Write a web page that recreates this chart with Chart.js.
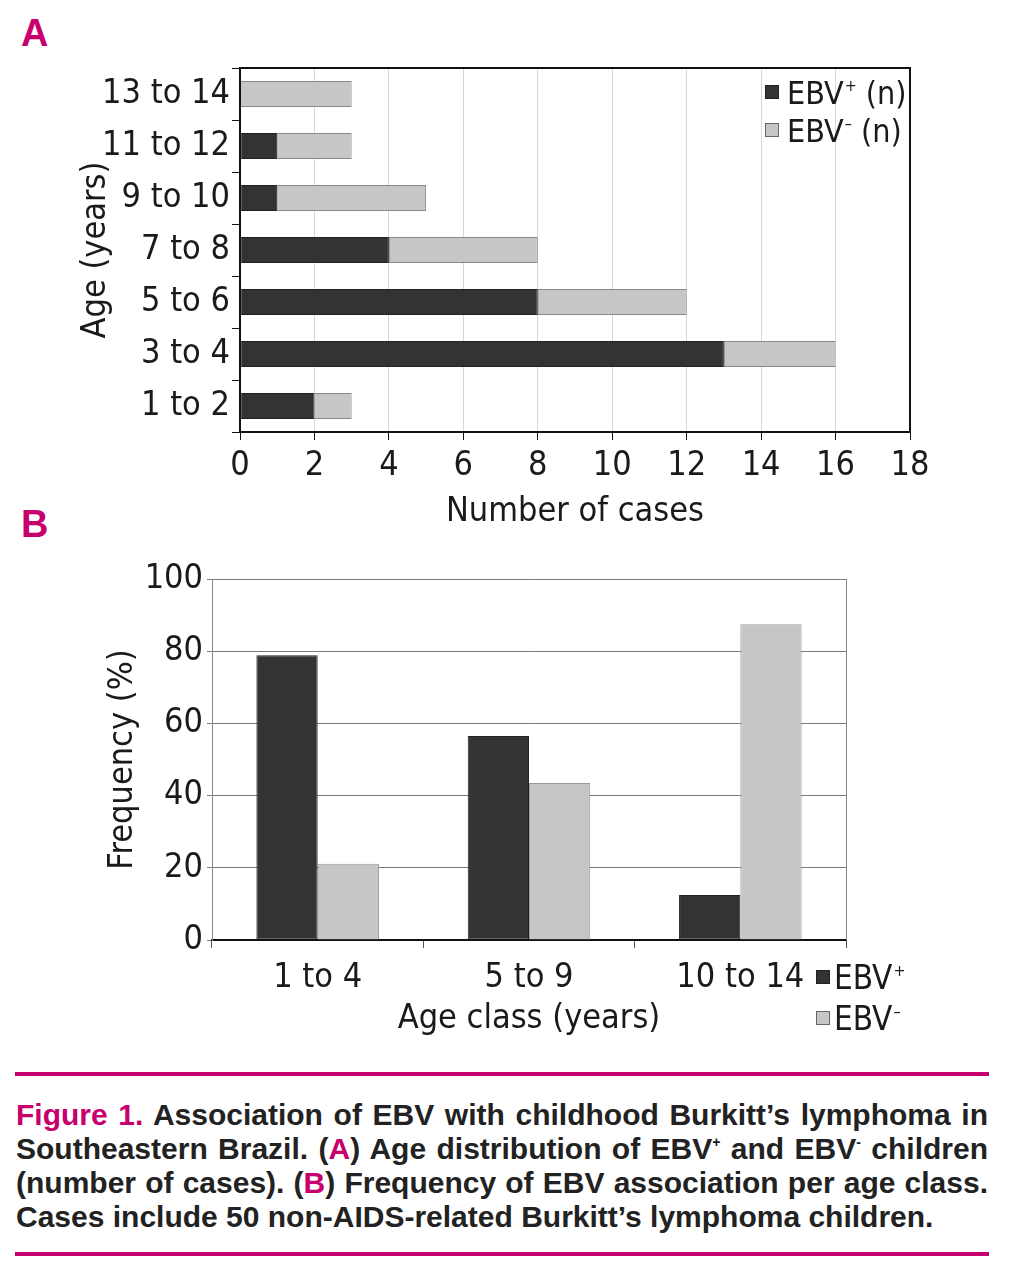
<!DOCTYPE html>
<html>
<head>
<meta charset="utf-8">
<script src="https://cdn.jsdelivr.net/npm/chart.js@4"></script>
<style>
  html, body { margin: 0; padding: 0; background: #fff; }
  body { width: 1011px; height: 1280px; position: relative; overflow: hidden;
         font-family: "DejaVu Sans Condensed", "DejaVu Sans", sans-serif; color: #1a1a1a; }
  .panel { position: absolute; left: 0; width: 1011px; }
  .letter { position: absolute; left: 21px; font-weight: bold; font-size: 38px; color: #c8006e;
            font-family: "Liberation Sans", sans-serif; }
  .leg { position: absolute; font-size: 33px; line-height: 38px; white-space: nowrap; color: #1a1a1a; }
  .leg .sw { display: inline-block; width: 12px; height: 12px; border: 1px solid #666; margin-right: 8px; vertical-align: middle; position: relative; top: -3px; }
  .leg .sp { font-size: 16px; line-height: 0; position: relative; top: -13px; margin-left: 1px; }
  .rule { position: absolute; left: 15px; width: 974px; height: 4px; background: #c8006e; }
  .cap { position: absolute; left: 16px; width: 972px; font-size: 30px; line-height: 34px; font-weight: bold;
         font-family: "Liberation Sans", sans-serif; color: #222; }
  .cap div { height: 34px; text-align: justify; text-align-last: justify; white-space: nowrap; }
  .cap div.last { text-align-last: left; }
  .cap .m { color: #c8006e; }
  .cap .sp { font-size: 14px; line-height: 0; position: relative; top: -12px; }
</style>
</head>
<body>
<div class="letter" style="top:12px;">A</div>
<div class="letter" style="top:503px;">B</div>

<canvas id="chartA" class="panel" width="1011" height="540" style="top:0;"></canvas>
<canvas id="chartB" class="panel" width="1011" height="520" style="top:540px;"></canvas>

<div class="leg" style="left:765px; top:74px; font-size:32px;"><span class="sw" style="background:#333;border-color:#222"></span>EBV<span class="sp">+</span> (n)</div>
<div class="leg" style="left:765px; top:112px; font-size:32px;"><span class="sw" style="background:#c6c6c6"></span>EBV<span class="sp">–</span> (n)</div>

<div class="leg" style="left:816px; top:959px;"><span class="sw" style="background:#333;border-color:#222;margin-right:4px"></span>EBV<span class="sp">+</span></div>
<div class="leg" style="left:816px; top:1000px;"><span class="sw" style="background:#c6c6c6;margin-right:4px"></span>EBV<span class="sp">–</span></div>

<div class="rule" style="top:1072px;"></div>
<div class="cap" style="top:1098px;">
  <div><span class="m">Figure 1.</span> Association of EBV with childhood Burkitt’s lymphoma in</div>
  <div>Southeastern Brazil. (<span class="m">A</span>) Age distribution of EBV<span class="sp">+</span> and EBV<span class="sp">-</span> children</div>
  <div>(number of cases). (<span class="m">B</span>) Frequency of EBV association per age class.</div>
  <div class="last">Cases include 50 non-AIDS-related Burkitt’s lymphoma children.</div>
</div>
<div class="rule" style="top:1252px;"></div>

<script>
// ---- Panel A data ----
const ageGroups = ['13 to 14', '11 to 12', '9 to 10', '7 to 8', '5 to 6', '3 to 4', '1 to 2'];
const ebvPosCounts = [0, 1, 1, 4, 8, 13, 2];
const ebvNegCounts = [3, 2, 4, 4, 4, 3, 1];
const countTicksMax = 18;

// ---- Panel B data ----
const ageClasses = ['1 to 4', '5 to 9', '10 to 14'];
const ebvPosPct = [78.9, 56.5, 12.5];
const ebvNegPct = [21.1, 43.5, 87.5];

const FONT = "'DejaVu Sans Condensed', 'DejaVu Sans', sans-serif";
const DARK = '#333333';
const LIGHT = '#c6c6c6';

const frameA = {
  id: 'frameA',
  afterDatasetsDraw(chart) {
    const {ctx, chartArea: a} = chart;
    ctx.save();
    ctx.strokeStyle = '#111';
    ctx.lineWidth = 2;
    ctx.strokeRect(a.left, a.top, a.right - a.left, a.bottom - a.top);
    ctx.restore();
  }
};

const frameB = {
  id: 'frameB',
  beforeDatasetsDraw(chart) {
    const {ctx, chartArea: a} = chart;
    ctx.save();
    ctx.strokeStyle = '#888';
    ctx.lineWidth = 1;
    ctx.beginPath();
    ctx.moveTo(a.right + 0.5, a.top);
    ctx.lineTo(a.right + 0.5, a.bottom);
    ctx.stroke();
    ctx.restore();
  }
};

new Chart(document.getElementById('chartA'), {
  type: 'bar',
  data: {
    labels: ageGroups,
    datasets: [
      { label: 'EBV+ (n)', data: ebvPosCounts, backgroundColor: DARK, borderColor: '#222', borderWidth: 1, borderSkipped: false },
      { label: 'EBV- (n)', data: ebvNegCounts, backgroundColor: LIGHT, borderColor: '#888', borderWidth: 1, borderSkipped: false }
    ]
  },
  options: {
    responsive: false,
    animation: false,
    indexAxis: 'y',
    layout: { padding: { left: 0, right: 101, top: 68, bottom: 0 } },
    plugins: { legend: { display: false }, tooltip: { enabled: false } },
    datasets: { bar: { categoryPercentage: 0.5, barPercentage: 1.0 } },
    scales: {
      x: {
        stacked: true, min: 0, max: countTicksMax,
        ticks: { stepSize: 2, color: '#1a1a1a', font: { family: FONT, size: 34 }, padding: 6 },
        grid: { color: '#d8d8d8', tickColor: '#111', tickLength: 8, lineWidth: 1 },
        border: { color: '#111', width: 2 },
        title: { display: true, text: 'Number of cases', color: '#1a1a1a', font: { family: FONT, size: 34 }, padding: { top: 0, bottom: 7 } },
        afterFit(s) { s.height = 108; }
      },
      y: {
        stacked: true,
        ticks: { color: '#1a1a1a', font: { family: FONT, size: 34 }, padding: 2 },
        grid: { offset: true, drawOnChartArea: false, tickColor: '#111', tickLength: 8 },
        border: { color: '#111', width: 2 },
        title: { display: true, text: 'Age (years)', color: '#1a1a1a', font: { family: FONT, size: 34 }, padding: { top: 76, bottom: 0 } },
        afterFit(s) { s.width = 240; }
      }
    }
  },
  plugins: [frameA]
});

new Chart(document.getElementById('chartB'), {
  type: 'bar',
  data: {
    labels: ageClasses,
    datasets: [
      { label: 'EBV+', data: ebvPosPct, backgroundColor: DARK, borderColor: '#222', borderWidth: 1, borderSkipped: false },
      { label: 'EBV-', data: ebvNegPct, backgroundColor: LIGHT, borderColor: '#999', borderWidth: 1, borderSkipped: false }
    ]
  },
  options: {
    responsive: false,
    animation: false,
    layout: { padding: { left: 0, right: 165, top: 39, bottom: 0 } },
    plugins: { legend: { display: false }, tooltip: { enabled: false } },
    datasets: { bar: { categoryPercentage: 0.58, barPercentage: 1.0 } },
    scales: {
      x: {
        ticks: { color: '#1a1a1a', font: { family: FONT, size: 34 }, padding: 10 },
        grid: { offset: true, drawOnChartArea: false, tickColor: '#555', tickLength: 8 },
        border: { color: '#111', width: 2 },
        title: { display: true, text: 'Age class (years)', color: '#1a1a1a', font: { family: FONT, size: 34 }, padding: { top: 0, bottom: 20 } },
        afterFit(s) { s.height = 120; }
      },
      y: {
        min: 0, max: 100,
        ticks: { stepSize: 20, color: '#1a1a1a', font: { family: FONT, size: 34 }, padding: 4 },
        grid: { color: '#7a7a7a', tickColor: '#7a7a7a', tickLength: 5, lineWidth: 1 },
        border: { color: '#888', width: 1 },
        title: { display: true, text: 'Frequency (%)', color: '#1a1a1a', font: { family: FONT, size: 34 }, padding: { top: 103, bottom: 0 } },
        afterFit(s) { s.width = 212; }
      }
    }
  },
  plugins: [frameB]
});
</script>
</body>
</html>
